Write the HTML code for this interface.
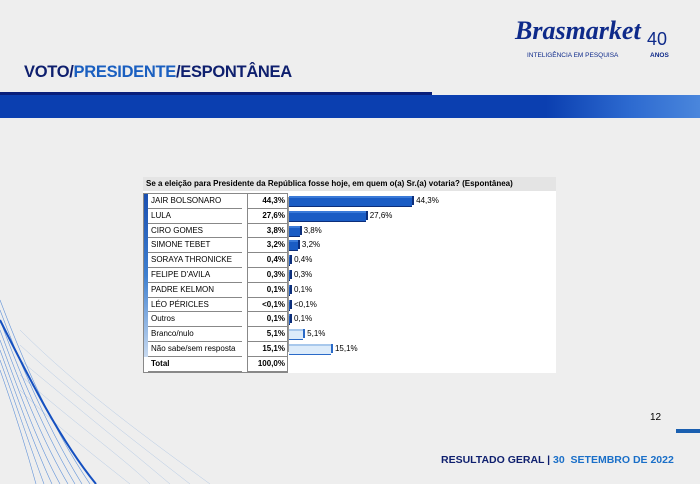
<!DOCTYPE html>
<html><head><meta charset="utf-8"><style>
body{margin:0;width:700px;height:484px;overflow:hidden;background:#eeeeee;font-family:"Liberation Sans",Arial,sans-serif;position:relative}
.a{position:absolute}
.r{position:absolute;left:148px;height:14.8px;font-size:8px;line-height:14.8px;color:#000}
.n{position:absolute;left:148px;width:94px;padding-left:3px;border-bottom:1px solid #888;box-sizing:border-box}
.v{position:absolute;left:247px;width:40px;text-align:right;font-weight:bold;padding-right:2px;box-sizing:border-box;border-left:1px solid #888;border-bottom:1px solid #888}
.lb{position:absolute;font-size:8px}
</style></head><body>
<svg class="a" style="left:0;top:0" width="700" height="484">
<g fill="none" stroke="#2a6fd0" stroke-width="0.6" opacity="0.7">
<path d="M0 300 C30 380 60 440 90 484"/><path d="M0 310 C28 385 55 440 82 484"/><path d="M0 320 C26 390 50 442 75 484"/><path d="M0 330 C24 395 45 445 68 484"/><path d="M0 340 C22 400 40 448 60 484"/><path d="M0 350 C20 405 36 450 52 484"/><path d="M0 360 C18 410 32 452 44 484"/><path d="M0 370 C16 415 28 455 36 484"/>
</g>
<g fill="none" stroke="#6a9ad8" stroke-width="0.5" opacity="0.45">
<path d="M20 330 C80 390 150 440 210 484"/><path d="M20 345 C80 400 140 445 190 484"/><path d="M20 360 C80 410 130 450 170 484"/><path d="M20 375 C70 420 120 455 150 484"/><path d="M20 390 C60 430 100 460 130 484"/>
</g>
<path d="M96 484 C60 440 30 380 0 320" stroke="#1550c0" stroke-width="2" fill="none"/>
</svg>
<div class="a" style="left:0;top:92px;width:432px;height:3px;background:#0a1f7a"></div>
<div class="a" style="left:0;top:95px;width:700px;height:23px;background:linear-gradient(90deg,#0b3fb0 0%,#0b3fb0 78%,#2d6ad0 90%,#4a86dc 100%)"></div>
<div class="a" style="left:24px;top:63px;font-size:16.5px;font-weight:bold;color:#0e1f6e;letter-spacing:-0.3px">VOTO/<span style="color:#1a5fc0">PRESIDENTE</span>/ESPONTÂNEA</div>
<div class="a" style="left:515px;top:16px;font-family:'Liberation Serif',serif;font-style:italic;font-weight:bold;font-size:26px;color:#0e2a8a">Brasmarket</div>
<div class="a" style="left:647px;top:29px;font-size:18px;color:#0e2a8a">40</div>
<div class="a" style="left:527px;top:52px;font-size:6.5px;color:#0e2a8a">INTELIGÊNCIA EM PESQUISA</div>
<div class="a" style="left:650px;top:52px;font-size:6.5px;font-weight:bold;color:#0e2a8a">ANOS</div>
<div class="a" style="left:143px;top:177px;width:413px;height:196px;background:#fff"></div>
<div class="a" style="left:143px;top:177px;width:413px;height:14px;background:#e4e4e4;font-size:8px;font-weight:bold;line-height:14px;padding-left:3px;box-sizing:border-box">Se a eleição para Presidente da República fosse hoje, em quem o(a) Sr.(a) votaria? (Espontânea)</div>
<div class="a" style="left:143px;top:193px;width:145px;height:180px;border:1px solid #888;box-sizing:border-box"></div>
<div class="a" style="left:144px;top:194px;width:4px;height:163px;background:linear-gradient(#1a4fb0,#3f80d0 50%,#c8daf0)"></div>
<div id="t"></div>
<div class="a" style="left:288px;top:197px;width:1px;height:155px;background:#999"></div>
<div class="a" style="left:650px;top:412px;font-size:10px">12</div>
<div class="a" style="left:676px;top:429px;width:24px;height:4px;background:#1a5fb0"></div>
<div class="a" style="left:441px;top:454px;font-size:10.5px;font-weight:bold;color:#0e1f6e">RESULTADO GERAL | <span style="color:#1a6fc8">30 &nbsp;SETEMBRO DE 2022</span></div>
<script>
var d=[["JAIR BOLSONARO","44,3%",44.3,0],["LULA","27,6%",27.6,0],["CIRO GOMES","3,8%",3.8,0],["SIMONE TEBET","3,2%",3.2,0],["SORAYA THRONICKE","0,4%",0.4,0],["FELIPE D'AVILA","0,3%",0.3,0],["PADRE KELMON","0,1%",0.1,0],["LÉO PÉRICLES","<0,1%",0.02,0],["Outros","0,1%",0.1,0],["Branco/nulo","5,1%",5.1,1],["Não sabe/sem resposta","15,1%",15.1,1],["Total","100,0%",-1,0]];
var h="";
d.forEach(function(r,i){var y=194+i*14.8;var b=i==11?"font-weight:bold;":"";
h+='<div class="r n" style="top:'+y+'px;'+b+'">'+r[0]+'</div><div class="r v" style="top:'+y+'px">'+r[1]+'</div>';
if(r[2]>=0){var w=Math.max(r[2]*2.78,1);var by=y+4;
var f=r[3]?"#dcebfa":"#1a5cc4",s=r[3]?"#2a6ac8":"#0c2e7a";
h+='<div class="a" style="left:289px;top:'+by+'px;width:'+w+'px;height:8px;background:'+f+';border-bottom:1px solid '+s+'"></div>';
h+='<div class="a" style="left:'+(289+w)+'px;top:'+(by-2)+'px;width:2px;height:9px;background:'+s+'"></div>';
h+='<div class="a" style="left:289px;top:'+(by-2)+'px;width:'+w+'px;height:2px;background:'+(r[3]?"#a8c8ec":"#3a7ad8")+'"></div>';
h+='<div class="lb" style="left:'+(293+w)+'px;top:'+(y+2)+'px">'+r[1]+'</div>';}
});
document.getElementById("t").innerHTML=h;
</script>
</body></html>
